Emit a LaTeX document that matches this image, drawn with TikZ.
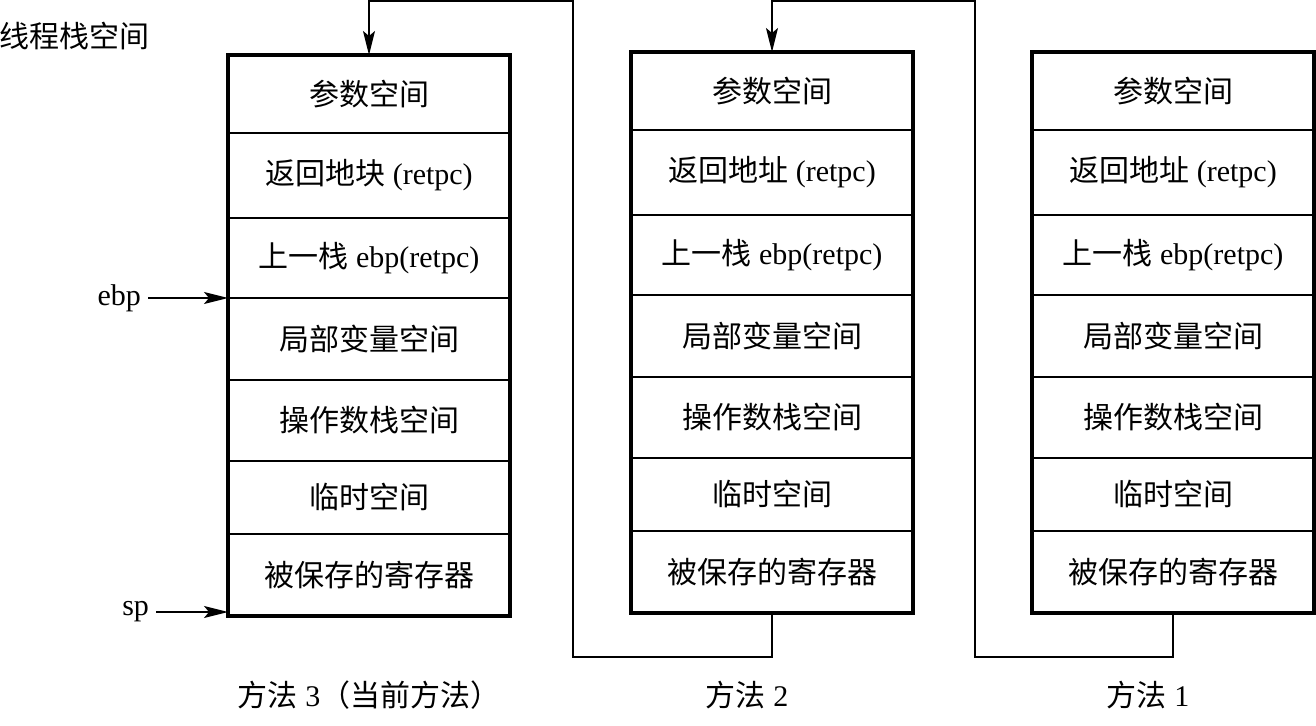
\documentclass[tikz,border=0pt]{standalone}
\usepackage{fontspec}
\setmainfont{Liberation Serif}
\newfontfamily\cjk{Noto Sans CJK SC}
\usetikzlibrary{arrows.meta,positioning}

\begin{document}
\begin{tikzpicture}[
        x=0.5pt, y=-0.5pt,
        font=\fontsize{15}{18}\selectfont,
        cell/.style={draw=black, line width=0.9pt, anchor=north west, inner sep=0pt, outer sep=0pt, minimum width=141pt},
        frame/.style={draw=black, line width=1.6pt},
        ptr/.style={-{Stealth[length=12pt,width=6pt,inset=2.5pt]}, line width=0.75pt}
    ]
        \useasboundingbox (0,0) rectangle (1316,726);

        \node[anchor=west, inner sep=0pt] (title) at (-1,36) {\cjk 线程栈空间};

        % one stack per method: m3 (current), m2, m1
        \foreach \m/\x/\t/\ret in {3/228/55/返回地块, 2/631/52/返回地址, 1/1032/52/返回地址} {
            \foreach \lab/\a/\b [count=\i] in {
                    {\cjk 参数空间}/0/78,
                    {{\cjk \ret} (retpc)}/78/163,
                    {{\cjk 上一栈} ebp(retpc)}/163/243,
                    {\cjk 局部变量空间}/243/325,
                    {\cjk 操作数栈空间}/325/406,
                    {\cjk 临时空间}/406/479,
                    {\cjk 被保存的寄存器}/479/561} {
                \node[cell, minimum height={(\b-\a)*0.5pt}] (m\m-\i) at (\x,\t+\a) {\lab};
            }
            \draw[frame] (m\m-1.north west) rectangle (m\m-7.south east);
        }

        \node[left=40pt of m3-3.south west] (ebp) {ebp};
        \node[left=36pt of m3-7.south west, yshift=2pt] (sp) {sp};
        \draw[ptr] (ebp) -- (m3-3.south west);
        \draw[ptr] (sp) -- (sp -| m3-7.west);

        \coordinate (lo2) at (573,657);
        \coordinate (hi2) at (573,1);
        \coordinate (lo1) at (975,657);
        \coordinate (hi1) at (975,1);
        \draw[ptr] (m2-7.south) |- (lo2) -- (hi2) -| (m3-1.north);
        \draw[ptr] (m1-7.south) |- (lo1) -- (hi1) -| (m2-1.north);

        \node (cap3) at (369,695) {{\cjk 方法} 3{\cjk （当前方法）}};
        \node (cap2) at (747,695) {{\cjk 方法} 2};
        \node (cap1) at (1148,695) {{\cjk 方法} 1};
    \end{tikzpicture}
\end{document}
